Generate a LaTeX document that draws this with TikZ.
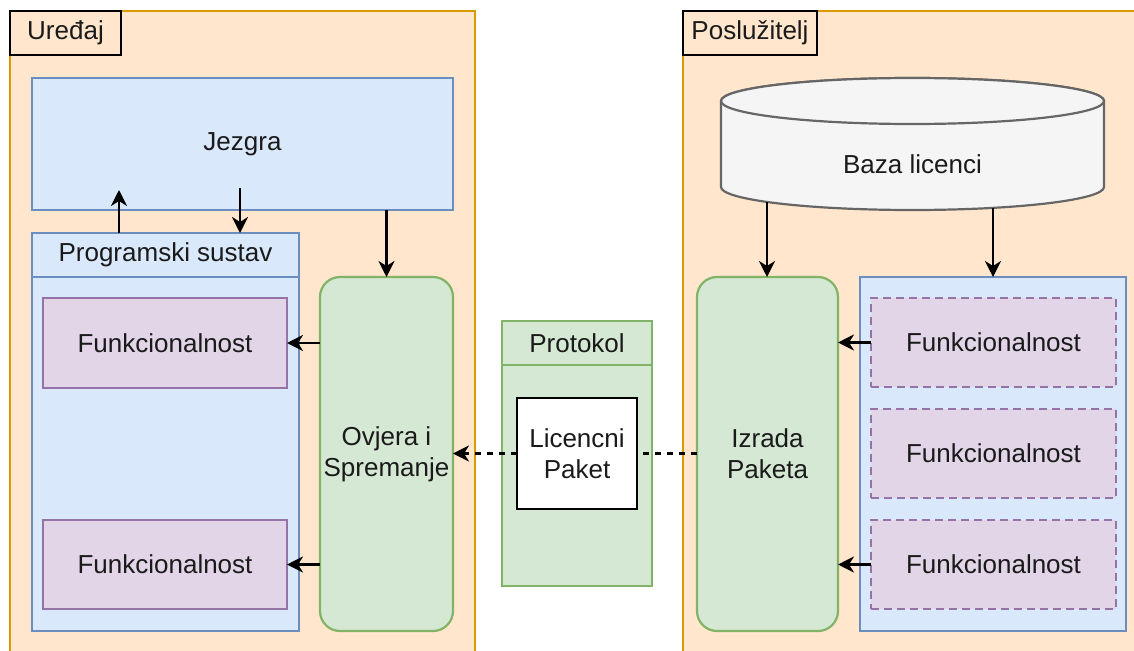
\documentclass[tikz,border=0pt]{standalone}
\usepackage{fontspec}
\setmainfont{Liberation Sans}
\usetikzlibrary{arrows.meta}
\definecolor{orF}{HTML}{FFE6CC}\definecolor{orD}{HTML}{D79B00}
\definecolor{blF}{HTML}{DAE8FC}\definecolor{blD}{HTML}{6C8EBF}
\definecolor{grF}{HTML}{D5E8D4}\definecolor{grD}{HTML}{82B366}
\definecolor{puF}{HTML}{E1D5E7}\definecolor{puD}{HTML}{9673A6}
\definecolor{cyF}{HTML}{F5F5F5}\definecolor{cyD}{HTML}{666666}
\definecolor{txt}{HTML}{1A1A1A}
\begin{document}
\begin{tikzpicture}[x=1pt,y=-1pt,
  font=\fontsize{26}{31}\selectfont, text=txt,
  every node/.style={inner sep=0pt, outer sep=0pt, anchor=north west, align=center},
  base/.style={line width=2.2pt},
  container/.style={base, draw=orD, fill=orF},
  lbl/.style={base, draw=black, fill=orF},
  bluebox/.style={base, draw=blD, fill=blF},
  greenbox/.style={base, draw=grD, fill=grF},
  roundgreen/.style={greenbox, rounded corners=20pt},
  purplebox/.style={base, draw=puD, fill=puF},
  dpurple/.style={purplebox, dash pattern=on 8pt off 5pt},
  pktbox/.style={base, draw=black, fill=white},
  arr/.style={line width=2.4pt, draw=black, -{Stealth[length=16pt, width=16pt, inset=5pt]}},
  dline/.style={line width=2.2pt, draw=black, dash pattern=on 6pt off 6pt}
]
\useasboundingbox (0,0) rectangle (1134,650);
\clip (0,0) rectangle (1134,650);

% containers
\node[container, minimum width=465pt, minimum height=650pt] (devC) at (10,11) {};
\node[lbl, minimum width=111pt, minimum height=44pt] (devL) at (10,11) {Uređaj};
\node[container, minimum width=470pt, minimum height=650pt] (srvC) at (683,11) {};
\node[lbl, minimum width=134pt, minimum height=44pt] (srvL) at (683,11) {Poslužitelj};

% device side
\node[bluebox, minimum width=421pt, minimum height=132pt] (jez) at (32,78) {Jezgra};
\node[bluebox, minimum width=267pt, minimum height=398pt] (prog) at (32,233) {};
\node[bluebox, minimum width=267pt, minimum height=44pt] (progH) at (32,233) {Programski sustav};
\node[purplebox, minimum width=244pt, minimum height=90pt] (f1) at (43,298) {Funkcionalnost};
\node[purplebox, minimum width=244pt, minimum height=89pt] (f2) at (43,520) {Funkcionalnost};
\node[roundgreen, minimum width=133pt, minimum height=354pt] (ovj) at (320,277) {Ovjera i\\Spremanje};

% protocol
\node[greenbox, minimum width=150pt, minimum height=265pt] (prot) at (502,321) {};
\node[greenbox, minimum width=150pt, minimum height=44pt] (protH) at (502,321) {Protokol};
\node[pktbox, minimum width=120pt, minimum height=111pt] (lic) at (517,398) {Licencni\\Paket};

% server side
\draw[base, draw=cyD, fill=cyF] (721,101) -- (721,187)
  arc[start angle=180, end angle=360, x radius=191.5pt, y radius=23pt]
  -- (1104,101)
  arc[start angle=0, end angle=180, x radius=191.5pt, y radius=23pt] -- cycle;
\draw[base, draw=cyD, fill=cyF] (912.5,101) ellipse [x radius=191.5pt, y radius=23pt];
\node[anchor=center] (baza) at (912.5,164) {Baza licenci};
\coordinate (b1) at (767,202);
\coordinate (b2) at (993,208);

\node[roundgreen, minimum width=141pt, minimum height=354pt] (izr) at (697,277) {Izrada\\Paketa};
\node[bluebox, minimum width=266pt, minimum height=354pt] (rbox) at (860,277) {};
\node[dpurple, minimum width=245pt, minimum height=89pt] (rf1) at (871,298) {Funkcionalnost};
\node[dpurple, minimum width=245pt, minimum height=89pt] (rf2) at (871,409) {Funkcionalnost};
\node[dpurple, minimum width=245pt, minimum height=89pt] (rf3) at (871,520) {Funkcionalnost};

% connectors
\coordinate (jin) at (119,190);
\coordinate (jout) at (240,188);
\draw[arr] (jin |- prog.north) -- (jin);
\draw[arr] (jout) -- (jout |- prog.north);
\draw[arr] (ovj.north |- jez.south) -- (ovj.north);
\draw[arr] (ovj.west |- f1.east) -- (f1.east);
\draw[arr] (ovj.west |- f2.east) -- (f2.east);
\draw[dline] (izr.west |- lic.east) -- (lic.east);
\draw[arr, dash pattern=on 6pt off 6pt] (lic.west) -- (ovj.east |- lic.west);
\draw[arr] (b1) -- (b1 |- izr.north);
\draw[arr] (b2) -- (b2 |- rbox.north);
\draw[arr] (rf1.west) -- (izr.east |- rf1.west);
\draw[arr] (rf3.west) -- (izr.east |- rf3.west);
\end{tikzpicture}
\end{document}
